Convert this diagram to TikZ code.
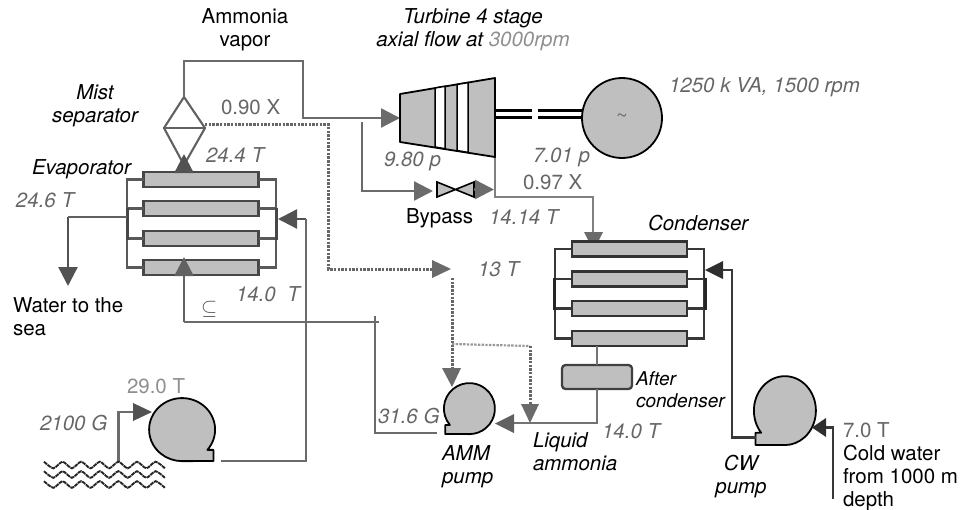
\documentclass[tikz,border=0pt]{standalone}
\usepackage{fontspec}
\setmainfont{TeX Gyre Heros}
\usetikzlibrary{arrows.meta}
\definecolor{txtgray}{gray}{0.40}
\definecolor{lightgray2}{gray}{0.56}
\definecolor{fillgray}{gray}{0.75}
\tikzset{
  lbl/.style={anchor=base west,inner sep=0pt,outer sep=0pt,font=\fontsize{20.5}{23}\selectfont},
  it/.style={lbl,font=\fontsize{20.5}{23}\selectfont\itshape},
  git/.style={it,text=txtgray},
  gup/.style={lbl,text=txtgray},
  hx/.style={draw=black!72,line width=2.3pt,fill=fillgray,inner sep=0pt,outer sep=0pt,minimum width=115pt,minimum height=15pt},
  hxc/.style={hx,draw=black!80},
  pipe/.style={draw=black!58,line width=2.4pt},
  epipe/.style={draw=black!65,line width=2.4pt},
  cpipe/.style={draw=black!78,line width=2.2pt},
  tri/.style={-{Triangle[length=19pt,width=19pt]}},
  dots/.style={draw=black!60,line width=3pt,dash pattern=on 2.4pt off 1.3pt},
  ldots/.style={draw=black!40,line width=2.2pt,dash pattern=on 2.4pt off 1.3pt},
  equip/.style={draw=black,line width=1.8pt,fill=fillgray,line join=round},
  wave/.style={draw=black!85,line width=1.9pt,dash pattern=on 4pt off .7pt},
}
\newcommand{\pumpshape}[4]{%
  \begin{scope}[shift={(#1,#2)},x=1pt,y=1pt,xscale=#3,yscale=#4]
    \path[equip] (25,-21) arc[start angle=-40,end angle=270,radius=32.5pt]
      -- (31,-32.5) -- (31,-21) -- cycle;
  \end{scope}}
\begin{document}
\begin{tikzpicture}[x=1pt,y=-1pt]
\useasboundingbox (0,0) rectangle (972,509);
% ---------- named points
\coordinate (sepT) at (184,97);
\coordinate (sepL) at (164,128);
\coordinate (sepR) at (205,128);
\coordinate (sepB) at (184,165);
\coordinate (v1) at (184,61);
\coordinate (v2) at (303,61);
\coordinate (v3) at (303,118);
\coordinate (turbIn) at (400,118);
\coordinate (by0) at (362,122);
\coordinate (by1) at (362,191);
\coordinate (valveIn) at (433,191);
\coordinate (valveOut) at (474,189.5);
\coordinate (valveOut2) at (494,189.5);
\coordinate (tBR) at (495,157);
\coordinate (c1) at (495,197);
\coordinate (c2) at (593,197);
\coordinate (c3) at (593,232);
\coordinate (e4tip) at (184,257);
\coordinate (e1arrow) at (184,154);
% ---------- evaporator
\node[hx] (e1) at (201,179.5) {};
\node[hx] (e2) at (201,208.5) {};
\node[hx] (e3) at (201,238.5) {};
\node[hx] (e4) at (201,267.5) {};
\draw[epipe] (e1.west) -- (127,179.5) -- (127,267.5) -- (e4.west);
\draw[epipe] (e1.east) -- (276,179.5) -- (276,267.5) -- (e4.east);
\draw[epipe] (e2.west) -- (127,208.5) (e3.west) -- (127,238.5);
\draw[epipe] (e2.east) -- (276,208.5) (e3.east) -- (276,238.5);
\draw[draw=black!72,line width=3pt] (127,207.5) -- (127,239.5);
\draw[draw=black!72,line width=3pt] (276,207.5) -- (276,239.5);
% ---------- condenser pipe under the boxes
\draw[pipe,draw=black!50] (tBR) -- (c1) -- (c2) -- (c3);
\fill[black!58] (584,232) -- (603,232) -- (593.5,251) -- cycle;
% ---------- condenser
\node[hxc] (k1) at (629.5,249) {};
\node[hxc] (k2) at (629.5,279) {};
\node[hxc] (k3) at (629.5,308.5) {};
\node[hxc] (k4) at (629.5,338.5) {};
\draw[cpipe] (k1.west) -- (555,249) -- (555,338.5) -- (k4.west);
\draw[cpipe] (k1.east) -- (704,249) -- (704,338.5) -- (k4.east);
\draw[cpipe] (k2.west) -- (555,279) (k3.west) -- (555,308.5);
\draw[cpipe] (k2.east) -- (704,279) (k3.east) -- (704,308.5);
\draw[draw=black!85,line width=3pt] (554.5,278) -- (554.5,309.5);
\draw[draw=black!85,line width=3pt] (705,278) -- (705,309.5);
\node[draw=black!75,line width=2.3pt,fill=fillgray,rounded corners=3.5pt,inner sep=0pt,outer sep=0pt,minimum width=70pt,minimum height=24pt] (after) at (597,377) {};
\draw[pipe,draw=black!55] (k4.south -| after.north) -- (after.north);
% ---------- mist separator
\node[inner sep=0pt,outer sep=0pt] (sep) at (184,128) {};
\draw[black!62,line width=2.1pt,line join=miter] (sepL) -- (sepT) -- (sepR) -- (sepB) -- cycle;
\draw[black!62,line width=2.4pt] (sepL) -- (sepR);
% ---------- ammonia vapour
\draw[pipe] (sepT) -- (v1) -- (v2) -- (v3) -- (381,118);
\draw[tri,black!58,line width=2.4pt] (v3) -- (turbIn);
\draw[tri,pipe,draw=black!50,black!58] (by0) -- (by1) -- (valveIn);
\draw[tri,black!68,line width=2.4pt] (e1.north -| sepT) -- (e1arrow);
\draw[tri,black!62,line width=2.4pt] (184,322) -- (e4tip);
\draw[pipe] (184,322) -- (379,322);
\draw[pipe] (375,316) -- (375,433) -- (437,433);
\draw[tri,black!68,line width=2.4pt] (68,217) -- (68,286);
\draw[pipe,black!62] (127,217) -- (68,217);
\draw[tri,black!68,line width=2.4pt] (306,219) -- (278,219);
\draw[pipe] (306,219) -- (306,461) -- (221,461);
% ---------- turbine
\coordinate (tTL) at (400,94);
\coordinate (tTR) at (495,78);
\coordinate (tBL) at (400,142);
\path[equip,fill=fillgray] (tTL) -- (tTR) -- (tBR) -- (tBL) -- cycle;
\path[draw=black,line width=1.5pt,fill=white] (435,88) -- (445,86.3) -- (445,148.7) -- (435,147) -- cycle;
\path[draw=black,line width=1.5pt,fill=white] (457,84.5) -- (468,82.6) -- (468,152.4) -- (457,150.5) -- cycle;
% ---------- shaft and generator
\node[circle,draw=black,line width=1.8pt,fill=fillgray,minimum size=80pt,inner sep=0pt,outer sep=0pt,font=\fontsize{20}{20}\selectfont,text=black!55] (gen) at (622,118) {\raisebox{-4pt}{\char"007E}};
\draw[black,line width=3pt] (495,110.5) -- (532,110.5) (538,110.5) -- (gen.west |- 0,110.5);
\draw[black,line width=3pt] (495,117.3) -- (532,117.3) (538,117.3) -- (gen.west |- 0,117.3);
% ---------- bypass valve
\node[inner sep=0pt,outer sep=0pt] (valve) at (455.5,189.5) {};
\path[draw=black,line width=1.6pt,fill=fillgray] (437,182) -- (474,197) -- (474,182) -- (437,197) -- cycle;
\draw[tri,black!58,line width=2.4pt] (valveOut) -- (valveOut2);
% ---------- dotted lines
\draw[dots] (sepR |- 0,124) -- (328,124) -- (328,269) -- (432,269);
\fill[black!58] (432,260) -- (451,269) -- (432,278) -- cycle;
\coordinate (d1) at (452,278);
\coordinate (d2) at (452,344);
\coordinate (d3) at (530,346);
\draw[dots] (d1) -- (452,368);
\fill[black!58] (442,368) -- (461,368) -- (452,387) -- cycle;
\draw[ldots] (d2) -- (d3);
\draw[dots] (d3) -- (530,404);
\fill[black!58] (521,404) -- (539,404) -- (530,423) -- cycle;
% ---------- pumps
\pumpshape{182}{429.5}{1.015}{0.97}
\coordinate (seaPump) at (182,429.5);
\pumpshape{469.5}{408.5}{-0.785}{0.785}
\coordinate (ammPump) at (469.5,408.5);
\pumpshape{785}{410.5}{-0.954}{1.06}
\coordinate (cwPump) at (785,410.5);
% ---------- liquid ammonia
\draw[pipe,draw=black!55] (after.south) -- (597,423) -- (514,423);
\fill[black!62] (514,414) -- (514,433) -- (495,423.5) -- cycle;
% ---------- sea water in
\draw[pipe] (118.5,462) -- (118.5,412) -- (135,412);
\fill[black!68] (133,403) -- (133,421) -- (152,412) -- cycle;
\foreach \yy in {465,474.5,484.5}{
  \draw[wave] plot[domain=0:13,samples=14,smooth,tension=.45] ({44+9.3*\x},{\yy-3.3+6.6*abs(mod(\x+1,2)-1)});
}
% ---------- CW
\draw[cpipe] (755.5,437.5) -- (732,437.5) -- (732,270) -- (722,270);
\fill[black!82] (723,261) -- (723,279) -- (705,270) -- cycle;
\draw[cpipe] (833,499) -- (833,427.5) -- (825,427.5);
\fill[black!82] (826,418) -- (826,437) -- (812,427.5) -- cycle;
% ---------- labels
\node[lbl,align=center,anchor=center] (tAmm) at (245,29.5) {Ammonia\\vapor};
\node[it,align=center,anchor=center] (tMist) at (95,105.5) {Mist\\separator};
\node[gup] (t090) at (221,114) {0.90 X};
\node[git] (t244) at (206,162) {24.4 T};
\node[it] (tEva) at (32,174) {Evaporator};
\node[git] (t246) at (16,207) {24.6 T};
\node[git] (t140a) at (236,301) {14.0\ \ T};
\node[lbl,align=left,anchor=west] (tSea) at (13,316.5) {Water to the\\sea};
\node[lbl,text=lightgray2] (t290) at (127,393) {29.0 T};
\node[git] (t2100) at (40,430) {2100 G};
\node[lbl,text=black!70] (tSub) at (201,314) {$\subseteq$};
\node[it,align=center,anchor=center] (tTurb) at (473,29.5) {Turbine 4 stage\\axial flow at \textcolor{lightgray2}{3000rpm}};
\node[git] (t980) at (384,166) {9.80 p};
\node[git] (t701) at (533,162) {7.01 p};
\node[gup] (t097) at (523,189) {0.97 X};
\node[lbl] (tBy) at (406,223) {Bypass};
\node[git] (t1414) at (489,224) {14.14 T};
\node[git] (tGen) at (669,92) {1250 k VA, 1500 rpm};
\node[it] (tCond) at (648,230) {Condenser};
\node[git] (t13) at (478,276) {13 T};
\node[it,align=left,anchor=west] (tAmmp) at (442,466.5) {AMM\\pump};
\node[git] (t316) at (378,423) {31.6 G};
\node[it,align=left,anchor=west] (tLiq) at (533,451.5) {Liquid\\ammonia};
\node[it,align=left,anchor=west,font=\fontsize{19}{22}\selectfont\itshape] (tAft) at (636,389.5) {After\\condenser};
\node[git] (t140b) at (602,438) {14.0 T};
\node[it,align=center,anchor=center] (tCW) at (741,476.5) {CW\\pump};
\node[gup] (t70) at (843,437) {7.0 T};
\node[lbl,align=left,anchor=west] (tCold) at (843,478) {Cold water\\from 1000 m\\depth};
\end{tikzpicture}
\end{document}
